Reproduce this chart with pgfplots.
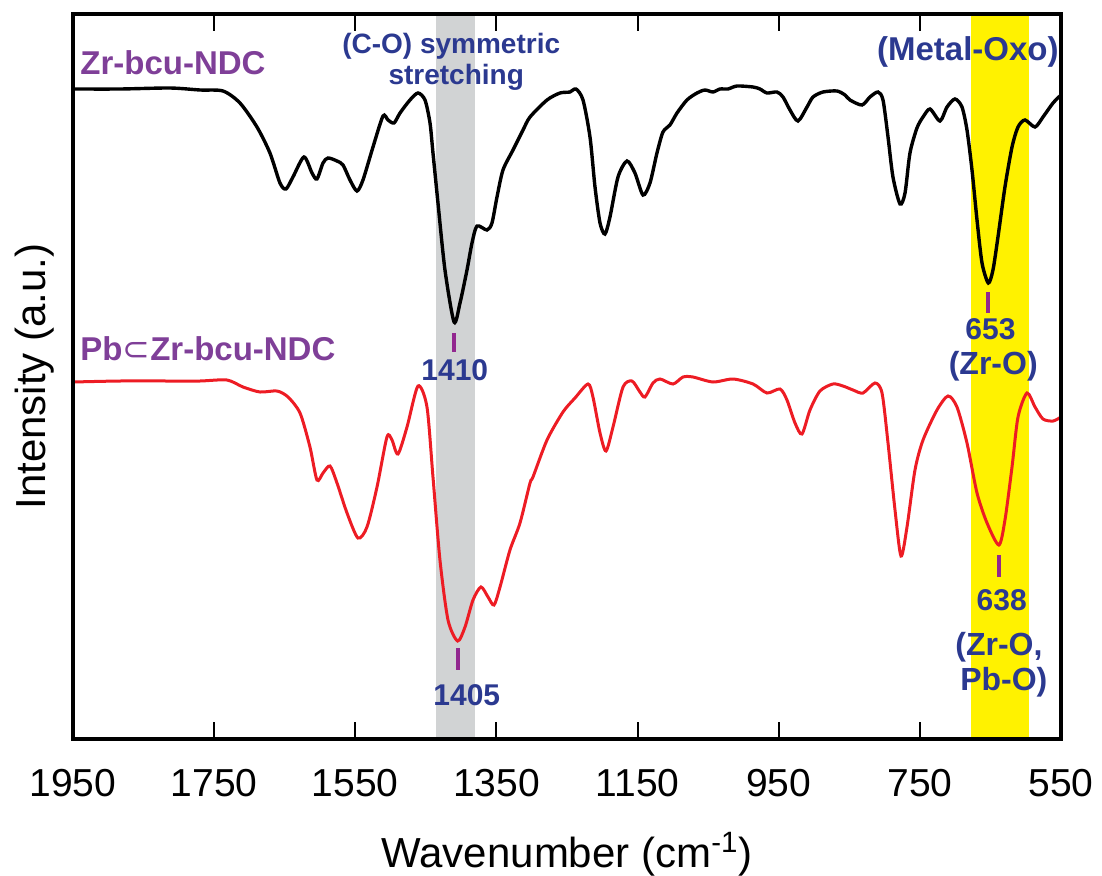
\documentclass[border=0pt]{standalone}
\usepackage{fontspec}
\setmainfont{Liberation Sans}
\newfontfamily\symfont{DejaVu Sans}
\usepackage{pgfplots}
\pgfplotsset{compat=1.18}

\definecolor{labpurple}{RGB}{127,63,152}
\definecolor{labblue}{RGB}{43,57,144}
\definecolor{peakmark}{RGB}{146,39,143}
\definecolor{bandyellow}{RGB}{255,242,0}
\definecolor{bandgrey}{RGB}{209,211,212}
\definecolor{specred}{RGB}{237,28,36}

\begin{document}
\begin{tikzpicture}
\begin{axis}[
  at={(0,0)}, anchor=south west,
  scale only axis, width=494pt, height=362.5pt,
  xmin=550, xmax=1950, x dir=reverse,
  ymin=0, ymax=725,
  xtick={550,750,...,1950},
  ytick=\empty,
  tick align=inside, xtick pos=both,
  major tick length=8.5pt,
  axis line style={line width=1.6pt},
  every tick/.style={black, line width=1pt},
  axis on top,
  /pgf/number format/assume math mode=true,
  /pgf/number format/1000 sep={},
  xticklabel style={font=\fontsize{19.5}{23}\selectfont, yshift=-11.5pt},
  xlabel={Wavenumber (cm\textsuperscript{-1})},
  xlabel style={font=\fontsize{21}{25}\selectfont,
    at={([yshift=-57.5pt]axis description cs:0.5,0)}, anchor=center},
  ylabel={Intensity (a.u.)},
  ylabel style={font=\fontsize{21}{25}\selectfont,
    at={([xshift=-13.5pt]axis description cs:0,0.5)}, anchor=base},
]

% assignment bands
\fill[bandgrey] (axis cs:1436,0) rectangle (axis cs:1380,725);
\fill[bandyellow] (axis cs:678,0) rectangle (axis cs:596,725);

% Zr-bcu-NDC
\addplot[black, line width=1.7pt, smooth, tension=0.45] coordinates {
(1950,650) (1883.4,650) (1812.6,651) (1770.0,649) (1737.4,648) (1713.4,636)
(1689.3,612) (1670.9,586) (1656.7,556) (1648.2,550) (1638.3,562) (1622.7,582)
(1611.3,566) (1604.3,560) (1595.7,576) (1588.7,581) (1575.9,578) (1567.4,574)
(1557.5,559) (1547.6,548) (1539.1,559) (1524.9,592) (1510.7,623) (1503.6,619)
(1495.1,616) (1486.6,626) (1472.5,639) (1461.1,646) (1451.2,639) (1444.1,616)
(1439.9,586) (1432.8,536) (1422.9,469) (1410,417) (1401.6,436) (1391.7,469)
(1384.6,496) (1377.5,513) (1363.4,509) (1356.3,516) (1349.2,542) (1340.7,569)
(1326.5,589) (1312.3,609) (1302.4,622) (1278.3,639) (1259.9,646) (1245.8,647)
(1237.2,650) (1227.3,639) (1217.4,602) (1210.3,552) (1203.2,516) (1196.2,505)
(1189.1,522) (1177.7,562) (1165.0,578) (1153.7,566) (1142.3,544) (1132.4,556)
(1122.5,586) (1114.0,607) (1104.1,614) (1094.1,626) (1080.0,639) (1065.8,646)
(1054.5,649) (1043.1,647) (1033.2,650) (1021.9,650) (1009.1,653) (986.4,652)
(976.5,650) (966.6,646) (952.4,647) (943.9,642) (934.0,629) (922.7,618)
(909.9,632) (901.4,642) (887.2,647) (867.4,648) (856.1,644) (849.0,639)
(832.0,634) (820.7,642) (809.3,647) (802.2,639) (795.1,602) (788.1,562)
(778.1,535) (771.0,546) (764.0,586) (754.1,611) (745.5,622) (735.6,630)
(721.5,618) (711.5,632) (700.2,640) (690.3,632) (683.2,609) (676.1,569)
(669.0,519) (661.9,476) (653,456) (646.4,469) (639.3,502) (629.4,552)
(619.4,592) (610.9,612) (601.0,619) (586.8,612) (575.5,622) (561.3,636)
(550,644)
};

% Pb@Zr-bcu-NDC
\addplot[specred, line width=1.5pt, smooth, tension=0.45] coordinates {
(1950,357) (1883.4,358) (1812.6,358) (1770.0,358) (1731.8,359) (1709.1,352)
(1685.0,347) (1660.9,348) (1645.3,342) (1628.3,326) (1614.2,292) (1604.3,259)
(1595.7,266) (1585.8,273) (1575.9,256) (1561.7,226) (1546.2,201) (1533.4,212)
(1519.2,252) (1505.1,302) (1498.0,299) (1489.5,285) (1476.7,312) (1461.1,353)
(1448.4,332) (1439.9,262) (1430.0,179) (1418.6,119) (1405,98) (1394.5,112)
(1383.2,139) (1371.9,152) (1361.9,142) (1353.4,134) (1344.9,152) (1330.8,189)
(1316.6,216) (1302.4,256) (1298.2,262) (1278.3,299) (1255.7,327) (1238.7,341)
(1220.2,355) (1213.2,342) (1203.2,306) (1194.7,288) (1184.8,312) (1170.6,352)
(1157.9,358) (1146.6,347) (1139.5,342) (1128.1,356) (1118.2,360) (1099.8,355)
(1085.6,362) (1071.5,362) (1043.1,357) (1014.8,360) (986.4,355) (966.6,346)
(948.2,350) (938.3,339) (926.9,316) (917.0,305) (905.7,329) (891.5,348)
(873.1,355) (858.9,353) (844.7,349) (830.6,346) (813.6,356) (803.6,346)
(795.1,296) (785.2,229) (776.7,183) (768.2,212) (756.9,269) (745.5,299)
(725.7,329) (710.1,343) (697.4,332) (683.2,296) (669.0,246) (654.8,216)
(638,194) (629.4,219) (619.4,272) (610.9,322) (598.2,346) (586.8,332)
(575.5,320) (561.3,318) (550,322)
};

% sample names
\node[anchor=west, inner sep=0, text=labpurple, font=\fontsize{16.5}{19}\selectfont\bfseries]
  at (axis cs:1940,676) {Zr-bcu-NDC};
\node[anchor=west, inner sep=0, text=labpurple, font=\fontsize{16.5}{19}\selectfont\bfseries]
  at (axis cs:1940,390) {Pb{\symfont\mdseries ⊂}Zr-bcu-NDC};

% band headings
\node[text=labblue, inner sep=0, font=\fontsize{14}{17}\selectfont\bfseries]
  at (axis cs:1414,693) {(C-O) symmetric};
\node[text=labblue, inner sep=0, font=\fontsize{14}{17}\selectfont\bfseries]
  at (axis cs:1407,662) {stretching};
\node[text=labblue, inner sep=0, font=\fontsize{16.5}{19}\selectfont\bfseries]
  at (axis cs:682,687) {(Metal-Oxo)};

% peak markers
\draw[peakmark, line width=2pt] (axis cs:1410,406) -- (axis cs:1410,387);
\draw[peakmark, line width=2pt] (axis cs:653,447) -- (axis cs:653,426);
\draw[peakmark, line width=2pt] (axis cs:1405,91) -- (axis cs:1405,69);
\draw[peakmark, line width=2pt] (axis cs:638,184) -- (axis cs:638,162);

\node[text=labblue, inner sep=0, font=\fontsize{15}{18}\selectfont\bfseries]
  at (axis cs:1409,369) {1410};
\node[text=labblue, inner sep=0, font=\fontsize{15}{18}\selectfont\bfseries]
  at (axis cs:650,410) {653};
\node[text=labblue, inner sep=0, font=\fontsize{16}{19}\selectfont\bfseries]
  at (axis cs:646,373) {(Zr-O)};
\node[text=labblue, inner sep=0, font=\fontsize{15}{18}\selectfont\bfseries]
  at (axis cs:1392,44) {1405};
\node[text=labblue, inner sep=0, font=\fontsize{15}{18}\selectfont\bfseries]
  at (axis cs:634,139) {638};
\node[text=labblue, inner sep=0, font=\fontsize{16}{19}\selectfont\bfseries]
  at (axis cs:638,92) {(Zr-O,};
\node[text=labblue, inner sep=0, font=\fontsize{16}{19}\selectfont\bfseries]
  at (axis cs:631,57) {Pb-O)};
\end{axis}
\pgfresetboundingbox
\path (-36.5pt,-68pt) rectangle (514.5pt,369.5pt);
\end{tikzpicture}
\end{document}
